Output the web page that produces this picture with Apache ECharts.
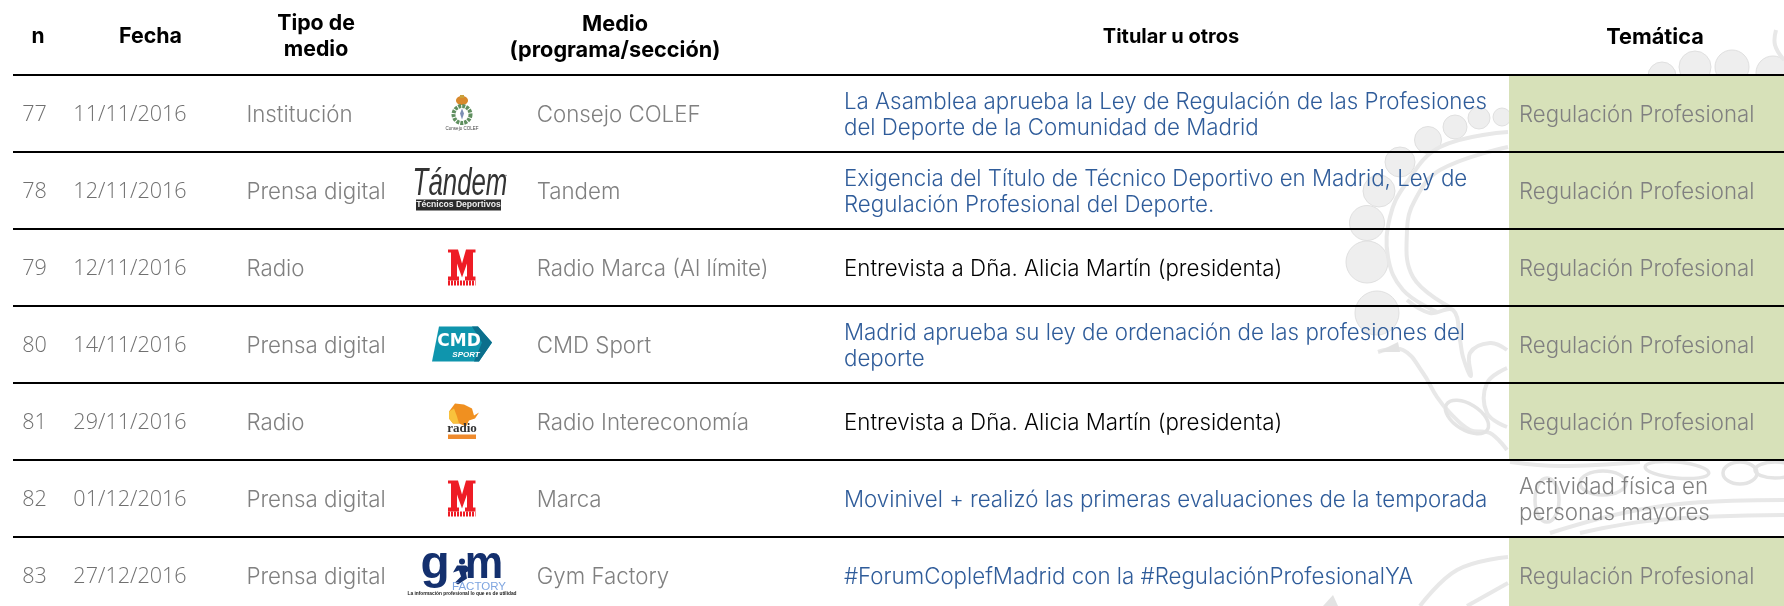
<!DOCTYPE html>
<html><head><meta charset="utf-8">
<style>html,body{margin:0;padding:0;background:#fff}#c{width:1784px;height:606px}</style>
<script src="https://cdn.jsdelivr.net/npm/echarts@6/dist/echarts.min.js"></script>
</head><body><div id="c"></div>
<script>
// ---- data ----
const headers = ["n","Fecha","Tipo de\nmedio","Medio\n(programa/sección)","Titular u otros","Temática"];
const numbers = ["77","78","79","80","81","82","83"];
const dates = ["11/11/2016","12/11/2016","12/11/2016","14/11/2016","29/11/2016","01/12/2016","27/12/2016"];
const mediaTypes = ["Institución","Prensa digital","Radio","Prensa digital","Radio","Prensa digital","Prensa digital"];
const outlets = ["Consejo COLEF","Tandem","Radio Marca (Al límite)","CMD Sport","Radio Intereconomía","Marca","Gym Factory"];
const headlines = [
 "La Asamblea aprueba la Ley de Regulación de las Profesiones\ndel Deporte de la Comunidad de Madrid",
 "Exigencia del Título de Técnico Deportivo en Madrid, Ley de\nRegulación Profesional del Deporte.",
 "Entrevista a Dña. Alicia Martín (presidenta)",
 "Madrid aprueba su ley de ordenación de las profesiones del\ndeporte",
 "Entrevista a Dña. Alicia Martín (presidenta)",
 "Movinivel + realizó las primeras evaluaciones de la temporada",
 "#ForumCoplefMadrid con la #RegulaciónProfesionalYA"];
const headlineIsLink = [true,true,false,true,false,true,true];
const themes = ["Regulación Profesional","Regulación Profesional","Regulación Profesional","Regulación Profesional","Regulación Profesional","Actividad física en\npersonas mayores","Regulación Profesional"];
const themeShaded = [true,true,true,true,true,false,true];
const logos = ["colef","tandem","marca","cmd","radio","marca","gym"];
const rowNames = ["header"].concat(numbers);

// ---- layout and style ----
const FONT = "Inter", W300 = 300;
const SIZE = 22.3;
const GRAY = "#808080", BLUE = "#2f5c9a", GREEN = "#d7e1b9";
const colHeaderX = [38,150.5,316,615,1171,1655];
const headerSizes = [21,21.4,21.3,21.7,20,21.7];
const col = {n:34.5, date:186.7, type:246.4, logo:462, outlet:536.7, title:844, theme:1519, shadeFrom:1509, right:1784};
const TEXT_DY = 1.5;

function txt(text,x,y,fill,o){o=o||{};return {type:'text',style:{text:text,x:x,y:y,fill:fill,
  fontFamily:o.family||FONT,fontSize:o.size||SIZE,fontWeight:o.weight||W300,fontStyle:o.style||'normal',
  align:o.align||'left',verticalAlign:'middle',lineHeight:o.lh||26}};}
function poly(points,fill){return {type:'polygon',shape:{points:points},style:{fill:fill}};}
function rect(x,y,w,h,fill){return {type:'rect',shape:{x:x,y:y,width:w,height:h},style:{fill:fill}};}
function squeezed(x,y,sx,sy,child){return {type:'group',x:x,y:y,scaleX:sx,scaleY:sy,children:[child]};}

const logoDraw = {
 colef(){return [
  {type:'ellipse',shape:{cx:0,cy:-13,rx:6,ry:4.5},style:{fill:'#d8892c'}},
  rect(-2,-18.5,4,3,'#c9a13c'),
  {type:'circle',shape:{cx:0,cy:1,r:8.5},style:{fill:'#fff',stroke:'#5f8f5f',lineWidth:4,lineDash:[3,1]}},
  poly([[0,-5],[2,0],[0,6],[-2,0]],'#7d8fb5'),
  txt('Consejo COLEF',0,15,'#444',{size:4.5,family:'Liberation Sans',weight:400,align:'center',lh:6})];},
 tandem(){return [
  squeezed(-2,-6,0.76,1.12,txt('Tándem',0,0,'#333',{size:34,family:'Liberation Sans',weight:400,style:'italic',align:'center',lh:36})),
  rect(-46,9,85,11,'#2b2b2b'),
  txt('Técnicos Deportivos',-3.5,14.5,'#eee',{size:8.6,family:'Liberation Sans',weight:700,align:'center',lh:10}),
  {type:'circle',shape:{cx:44,cy:-15,r:0.7},style:{fill:'#666'}}];},
 marca(){return [
  poly([[-14,-18],[-4,-18],[0,-4],[4,-18],[13.5,-18],[13.5,-15],[11,-15],[11,9],[13.5,9],[13.5,13],[3,13],[3,9],[5,9],[5,-4],[0,10],[-5,-4],[-5,9],[-3,9],[-3,13],[-14,13],[-14,9],[-11,9],[-11,-15],[-14,-15]],'#ee1c25'),
  {type:'line',shape:{x1:-14,y1:15.5,x2:13.5,y2:15.5},style:{stroke:'#ee1c25',lineWidth:5,lineDash:[2,1]}}];},
 cmd(){return [
  poly([[-23,-18],[16,-18],[30,-2],[17,17],[-30,17]],'#0f95ad'),
  poly([[10,-18],[16,-18],[30,-2],[17,17],[12,17],[20,-2]],'#0c6f8c'),
  txt('CMD',-3,-3,'#fff',{size:17,family:'DejaVu Sans',weight:700,align:'center',lh:20}),
  txt('SPORT',4,10,'#fff',{size:8,family:'Liberation Sans',weight:700,style:'italic',align:'center',lh:9})];},
 radio(){return [
  poly([[-13,-10],[-7,-18],[2,-17],[10,-13],[12,-6],[17,-9],[13,-3],[7,-1],[4,5],[-3,2],[-9,2],[-13,-3]],'#f09020'),
  poly([[-13,-10],[-8,-13],[-5,-5],[-3,2],[-9,2],[-13,-3]],'#f9c23c'),
  txt('radio',0,7,'#333',{size:13,family:'Liberation Serif',weight:700,align:'center',lh:13}),
  rect(-14,13,28,4.5,'#ef8a2c')];},
 gym(){return [
  squeezed(-27,-10.5,1.04,1,txt('g',0,0,'#14306e',{size:46,family:'Liberation Sans',weight:700,align:'center',lh:46})),
  squeezed(22,-10.5,0.94,1,txt('m',0,0,'#14306e',{size:46,family:'Liberation Sans',weight:700,align:'center',lh:46})),
  {type:'circle',shape:{cx:0,cy:-14,r:3},style:{fill:'#14306e'}},
  poly([[-5,-10],[4,-10],[9,-6],[4,-3],[5,3],[-4,9],[-7,7],[-1,1],[-3,-5],[-9,-3]],'#14306e'),
  txt('FACTORY',17,11,'#7fa5e0',{size:11.5,family:'Liberation Sans',weight:400,align:'center',lh:11}),
  txt('La información profesional lo que es de utilidad',0,18,'#222',{size:4.8,family:'Liberation Sans',weight:700,align:'center',lh:5})];}
};

// ---- watermark (page decoration behind the table) ----
const beads = [[1662,76,14],[1695,67,16],[1732,67,17],[1773,73,17],[1502,117,9],[1479,118,11],[1455,127,12],[1428,140,13.5],[1400,162,15],[1379,191,16],[1367,223,17.5],[1367,262,21],[1377,313,22]];
const ringPaths = [
 [[1508,132],[1440,147],[1405,185],[1390,217],[1388,257],[1403,290],[1437,312]],
 [[1508,147],[1440,170],[1415,200],[1407,230],[1413,277],[1450,307]],
 [[1407,300],[1430,313],[1453,310],[1460,340],[1463,357],[1471,376],[1470,353],[1490,343],[1507,350]],
 [[1378,352],[1403,350],[1423,373],[1437,397],[1450,413],[1470,430],[1490,433],[1507,450]],
 [[1507,368],[1487,383],[1487,413],[1507,427]],
 [[1550,533],[1623,513],[1690,503],[1784,500]],
 [[1580,533],[1657,520],[1784,515]],
 [[1420,606],[1457,570],[1508,557]],
 [[1467,606],[1508,583]],
 [[1776,30],[1775,45],[1784,60]],
 [[1510,462],[1560,466],[1640,462]]];
const ovals = [[1467,417,24,13,-0.55],[1603,483,23,12,0],[1677,470,32,8,-0.1],[1740,473,17,11,0],[1547,500,12,22,0],[1775,470,20,8,0]];
const wm = [];
beads.forEach(b=>wm.push({type:'circle',z:-10,silent:true,shape:{cx:b[0],cy:b[1],r:b[2]},style:{fill:'#eeeeee',stroke:'#e0e0e0',lineWidth:1}}));
ringPaths.forEach(p=>wm.push({type:'polyline',z:-10,silent:true,shape:{points:p,smooth:0.4},style:{fill:null,stroke:'#e8e8e8',lineWidth:4}}));
ovals.forEach(o=>wm.push({type:'ellipse',z:-10,silent:true,x:o[0],y:o[1],rotation:o[4],shape:{cx:0,cy:0,rx:o[2],ry:o[3]},style:{fill:null,stroke:'#e4e4e4',lineWidth:3.5}}));
wm.push({type:'polygon',z:-10,silent:true,shape:{points:[[1323,606],[1333,595],[1338,606]]},style:{fill:'#e3e3e3'}});
wm.push({type:'polygon',z:-10,silent:true,shape:{points:[[1378,352],[1398,342],[1400,352]]},style:{fill:'#e3e3e3'}});

// ---- chart ----
function renderRow(i,api){
  const y = api.coord([col.n,i])[1];
  const X = v => api.coord([v,i])[0];
  const band = api.size([0,1])[1];
  const kids = [];
  if(i===0){
    headers.forEach((h,k)=>kids.push(txt(h,X(colHeaderX[k]),y+0.5,'#000',{weight:700,size:headerSizes[k],align:'center',lh:26})));
    return {type:'group',children:kids};
  }
  const r = i-1, ty = y+TEXT_DY;
  if(themeShaded[r]) kids.push(rect(X(col.shadeFrom),y-band/2+1,X(col.right)-X(col.shadeFrom),band-2,GREEN));
  const digits = {family:'Open Sans',size:21.6};
  kids.push(txt(numbers[r],X(col.n),ty,'#707070',Object.assign({align:'center'},digits)));
  kids.push(txt(dates[r],X(col.date),ty,'#707070',Object.assign({align:'right'},digits)));
  kids.push(txt(mediaTypes[r],X(col.type),ty,GRAY));
  kids.push(txt(outlets[r],X(col.outlet),ty,GRAY));
  kids.push(txt(headlines[r],X(col.title),ty,headlineIsLink[r]?BLUE:'#000'));
  const themeStretch = themes[r].indexOf('\n')<0 ? 0.995 : 1;
  kids.push(squeezed(X(col.theme),ty,themeStretch,1,txt(themes[r],0,0,GRAY)));
  kids.push({type:'group',x:X(col.logo),y:y,children:logoDraw[logos[r]]()});
  return {type:'group',children:kids};
}
const chart = echarts.init(document.getElementById('c'),null,{renderer:'canvas'});
chart.setOption({
  animation:false,
  backgroundColor:'#fff',
  graphic:{elements:wm},
  grid:{left:13,top:-2,width:1771,height:616,containLabel:false,outerBoundsMode:'none'},
  xAxis:{type:'value',min:13,max:1784,show:false},
  yAxis:{type:'category',inverse:true,data:rowNames,
    axisLine:{show:false},axisTick:{show:false},axisLabel:{show:false},
    splitLine:{show:true,interval:0,lineStyle:{color:'#000',width:2}}},
  series:[{type:'custom',coordinateSystem:'cartesian2d',clip:false,z:2,silent:true,
    data:rowNames.map(n=>[0,n]),encode:{x:0,y:1},
    renderItem:function(p,api){ return renderRow(p.dataIndex,api); }}]
});
</script></body></html>
